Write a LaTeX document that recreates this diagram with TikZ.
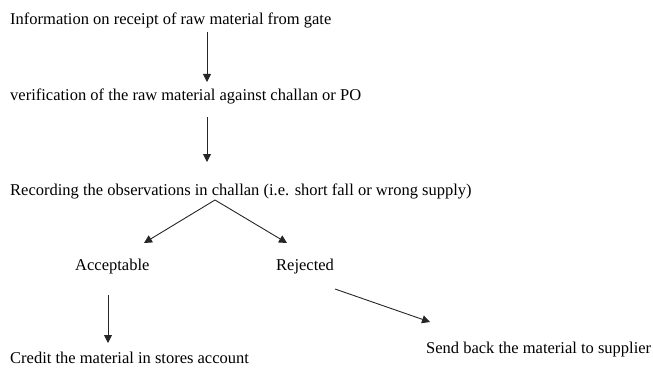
\documentclass[tikz,border=0pt]{standalone}
\usepackage{fontspec}
\setmainfont{Liberation Serif}
\usetikzlibrary{arrows.meta}

\begin{document}
\begin{tikzpicture}[x=1pt,y=-1pt,
	txt/.style={anchor=base west,inner sep=0pt,font=\fontsize{16.5}{19}\selectfont},
	flow/.style={-{Triangle[width=8pt,length=8pt]},line width=0.9pt,black!85}]
	\useasboundingbox (0,0) rectangle (653,369);
	\node[txt] (info) at (10,25) {Information on receipt of raw material from gate};
	\node[txt] (verify) at (10,100) {verification of the raw material against challan or PO};
	\node[txt] (record) at (10,195) {Recording the observations in challan (i.e. short fall or wrong supply)};
	\node[txt] (accept) at (75,270) {Acceptable};
	\node[txt] (reject) at (276,270) {Rejected};
	\node[txt] (credit) at (10,363) {Credit the material in stores account};
	\node[txt] (sendback) at (426,353) {Send back the material to supplier};
	\path
	(207,32) coordinate (a1)  (207,82) coordinate (a2)
	(207,117) coordinate (b1) (207,162) coordinate (b2)
	(215,200) coordinate (top)
	(144,243) coordinate (l)  (287,243) coordinate (r)
	(108,295) coordinate (c1) (108,343) coordinate (c2)
	(335,289) coordinate (d1) (430,322) coordinate (d2);
	\foreach \p/\q in {a1/a2,b1/b2,top/l,top/r,c1/c2,d1/d2} \draw[flow] (\p) -- (\q);
\end{tikzpicture}
\end{document}
